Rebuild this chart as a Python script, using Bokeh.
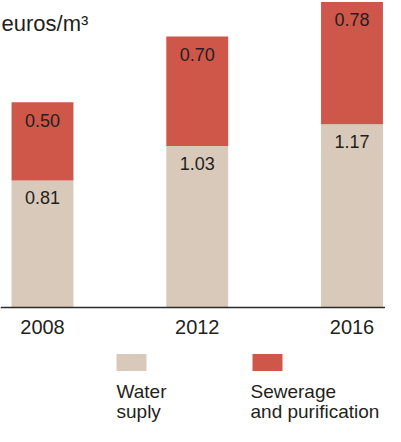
from bokeh.plotting import figure
from bokeh.models import Range1d, Span, ColumnDataSource
from bokeh.core.properties import value
from bokeh.embed import file_html
from bokeh.resources import INLINE

# ---- data ----
years = ["2008", "2012", "2016"]
water_supply = [0.81, 1.03, 1.17]
sewerage = [0.50, 0.70, 0.78]
series_labels = ["Water\nsuply", "Sewerage\nand purification"]
unit_label = "euros/m\u00b3"

# ---- style / layout ----
BEIGE = "#D9C9BA"
RED = "#CF5749"
TEXT = "#231F20"
FONT = "Liberation Sans"

W, H = 385, 426
BASE_PX = 307      # canvas y of the zero line
SY = 156.7         # px per euro
X0_PX = 42         # canvas x of first bar centre
SX = 154.75        # px between bars

y_start = -(H - BASE_PX) / SY
y_end = BASE_PX / SY
x_start = -X0_PX / SX
x_end = (W - X0_PX) / SX


def dx(px):
    return x_start + px / SX


def dy(py):
    return y_end - py / SY


p = figure(width=W, height=H,
           x_range=Range1d(x_start, x_end), y_range=Range1d(y_start, y_end),
           output_backend="svg", toolbar_location=None, min_border=0,
           x_axis_type=None, y_axis_type=None, outline_line_color=None,
           background_fill_color="white", border_fill_color="white")
p.grid.visible = False

xs = list(range(len(years)))
totals = [w + s for w, s in zip(water_supply, sewerage)]
src = ColumnDataSource(dict(
    x=xs, year=years, water=water_supply, sewer=sewerage, total=totals,
    water_lbl=[f"{v:.2f}" for v in water_supply],
    sewer_lbl=[f"{v:.2f}" for v in sewerage],
    zero=[0] * len(xs),
))

p.vbar(x="x", bottom=0, top="water", width=0.4, source=src,
       fill_color=BEIGE, line_color=None)
p.vbar(x="x", bottom="water", top="total", width=0.4, source=src,
       fill_color=RED, line_color=None)

common = dict(text_font=value(FONT), text_color=TEXT, text_align="center",
              text_baseline="middle")
p.text(x="x", y="water", text="water_lbl", source=src, y_offset=17,
       text_font_size="18px", **common)
p.text(x="x", y="total", text="sewer_lbl", source=src, y_offset=18,
       text_font_size="18px", **common)
p.text(x="x", y="zero", text="year", source=src, y_offset=19,
       text_font_size="20px", **common)

p.add_layout(Span(location=0, dimension="width", line_color="#2B2B2B",
                  line_width=1.5))

# unit label
p.text(x=[dx(1)], y=[dy(23)], text=[unit_label], text_font=value(FONT),
       text_font_size="22px", text_color=TEXT, text_baseline="alphabetic",
       text_align="left")

# legend
sw_x = [131, 267]
txt_x = [116, 250]
p.rect(x=[dx(v) for v in sw_x], y=[dy(362)] * 2, width=30, height=17,
       width_units="screen", height_units="screen",
       fill_color=[BEIGE, RED], line_color=None)
lx, ly, lt = [], [], []
for i, lab in enumerate(series_labels):
    for j, line in enumerate(lab.split("\n")):
        lx.append(dx(txt_x[i]))
        ly.append(dy(391 + 20 * j))
        lt.append(line)
p.text(x=lx, y=ly, text=lt, text_font=value(FONT), text_font_size="19px",
       text_color=TEXT, text_baseline="alphabetic", text_align="left")

open("out.html", "w").write(file_html(p, INLINE))
